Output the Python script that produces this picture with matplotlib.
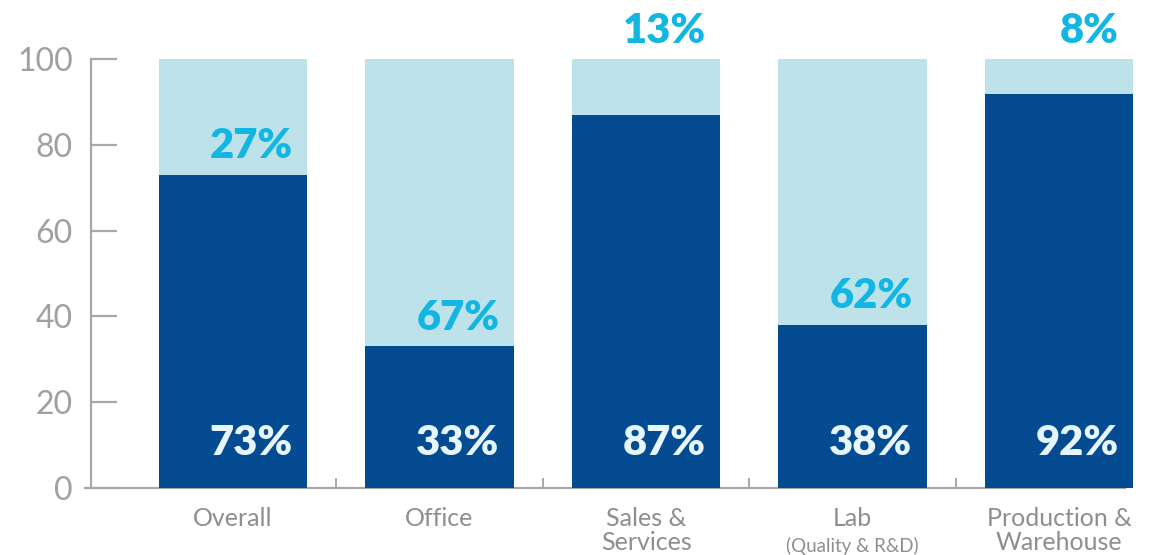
import matplotlib
matplotlib.use("Agg")
import matplotlib.pyplot as plt
from matplotlib.ticker import FixedLocator

categories = ["Overall", "Office", "Sales &\nServices", "Lab", "Production &\nWarehouse"]
sub_labels = ["", "", "", "(Quality & R&D)", ""]
dark_values = [73, 33, 87, 38, 92]
light_values = [27, 67, 13, 62, 8]
y_ticks = [0, 20, 40, 60, 80, 100]

DARK = "#054B91"
LIGHT = "#BDE2EA"
CYAN = "#12B6E2"
PALE = "#E6F6FC"
GRAY_TXT = "#8E8E8E"
GRAY_AX = "#A8A8A8"

plt.rcParams["font.family"] = ["Lato", "DejaVu Sans"]

fig = plt.figure(figsize=(11.64, 5.55), dpi=100)
x0, x1 = -0.688, 4.40
left_px, bottom_px = 91, 555 - 487.8
ax = fig.add_axes([left_px / 1164, bottom_px / 555,
                   (233 + 206.5 * x1 - left_px) / 1164, (487.8 - 59.3) / 555])

xs = list(range(len(categories)))
width = 0.72
ax.bar(xs, dark_values, width=width, color=DARK, zorder=3)
ax.bar(xs, light_values, width=width, bottom=dark_values, color=LIGHT, zorder=3)

ax.set_xlim(x0, x1)
ax.set_ylim(0, 100)

# value labels: share of the dark part at the foot of each bar, share of the
# light part just above the dark part, or above the bar when the part is thin
for x, d, l in zip(xs, dark_values, light_values):
    right = x + width / 2 - 0.07
    ax.text(right, 7.7, f"{d}%", ha="right", va="baseline", color=PALE,
            fontsize=30, fontweight="heavy", zorder=4)
    ty = d + 3.9 if l >= 20 else 103.8
    ax.text(right, ty, f"{l}%", ha="right", va="baseline", color=CYAN,
            fontsize=30, fontweight="heavy", zorder=4, clip_on=False)

# spines
for s in ("top", "right"):
    ax.spines[s].set_visible(False)
ax.spines["left"].set_color(GRAY_AX)
ax.spines["left"].set_linewidth(1.6)
ax.spines["left"].set_bounds(0, 100)
ax.spines["bottom"].set_color(GRAY_AX)
ax.spines["bottom"].set_linewidth(1.6)
ax.spines["bottom"].set_bounds(x0 - 0.03, 4.32)

# y axis
ax.set_yticks(y_ticks)
ax.set_yticklabels([str(v) for v in y_ticks])
ax.tick_params(axis="y", direction="in", length=19, width=1.6, color=GRAY_AX,
               pad=13, labelsize=23, labelcolor="#A0A0A0")

# x axis
ax.set_xticks(xs)
ax.set_xticklabels(categories, linespacing=1.05)
ax.tick_params(axis="x", which="major", length=0, pad=14, labelsize=18,
               labelcolor=GRAY_TXT)
for lab in ax.get_xticklabels():
    lab.set_va("top")
ax.xaxis.set_minor_locator(FixedLocator([i + 0.5 for i in xs[:-1]]))
ax.tick_params(axis="x", which="minor", direction="in", length=7, width=1.4,
               color=GRAY_AX)

for x, sub in zip(xs, sub_labels):
    if sub:
        ax.text(x, -11.4, sub, ha="center", va="top", color=GRAY_TXT,
                fontsize=13.5, clip_on=False)

fig.savefig("out.png", dpi=100)
